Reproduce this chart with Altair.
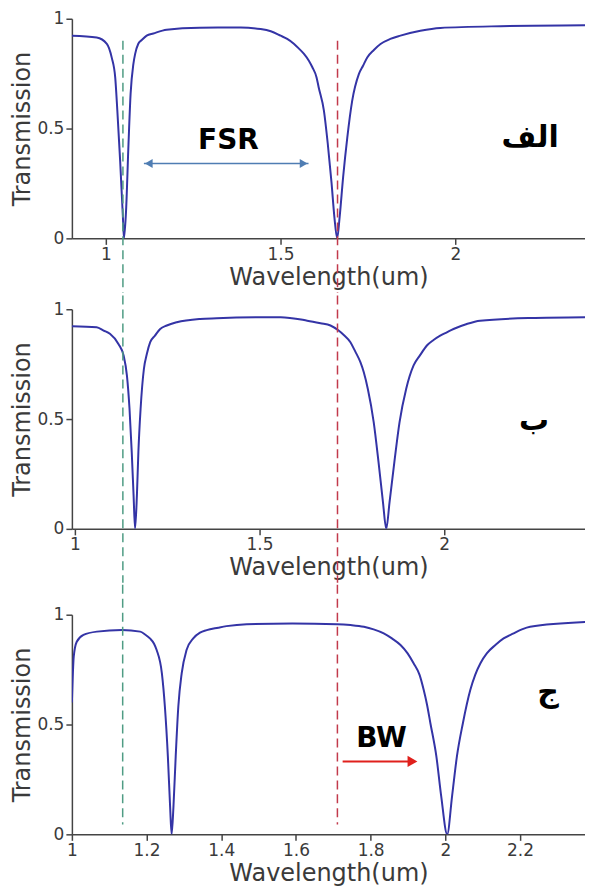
import altair as alt
import pandas as pd

# ---------------- data ----------------
# panel (الف)
wl_a = [0.903, 0.974, 1.003, 1.017, 1.027, 1.033, 1.041, 1.049, 1.052, 1.058, 1.065,
        1.071, 1.079, 1.084, 1.093, 1.103, 1.117, 1.136, 1.174, 1.269, 1.386, 1.443,
        1.472, 1.5, 1.519, 1.538, 1.552, 1.567, 1.581, 1.591, 1.603, 1.609, 1.624,
        1.635, 1.646, 1.654, 1.662, 1.669, 1.679, 1.691, 1.705, 1.724, 1.736, 1.748,
        1.767, 1.786, 1.814, 1.843, 1.9, 1.957, 2.129, 2.394]
tr_a = [0.923, 0.915, 0.886, 0.823, 0.732, 0.582, 0.355, 0.095, 0.0, 0.127, 0.432,
        0.659, 0.795, 0.84, 0.886, 0.903, 0.923, 0.933, 0.95, 0.959, 0.96, 0.953,
        0.943, 0.923, 0.908, 0.886, 0.865, 0.84, 0.809, 0.779, 0.733, 0.688, 0.582,
        0.432, 0.25, 0.097, 0.0, 0.097, 0.279, 0.46, 0.627, 0.748, 0.786, 0.824,
        0.858, 0.885, 0.908, 0.923, 0.945, 0.958, 0.966, 0.97]

# panel (ب)
wl_b = [0.992, 1.059, 1.078, 1.095, 1.118, 1.132, 1.141, 1.148, 1.154, 1.159, 1.163,
        1.168, 1.172, 1.178, 1.187, 1.195, 1.204, 1.217, 1.231, 1.249, 1.276, 1.339,
        1.384, 1.557, 1.629, 1.665, 1.692, 1.714, 1.728, 1.746, 1.759, 1.773, 1.782,
        1.793, 1.809, 1.822, 1.834, 1.843, 1.852, 1.865, 1.879, 1.897, 1.917, 1.935,
        1.953, 1.971, 1.989, 2.007, 2.025, 2.061, 2.097, 2.232, 2.403]
tr_b = [0.923, 0.918, 0.903, 0.888, 0.842, 0.789, 0.698, 0.547, 0.35, 0.153, 0.0,
        0.153, 0.35, 0.547, 0.729, 0.797, 0.85, 0.88, 0.91, 0.926, 0.941, 0.956,
        0.959, 0.964, 0.948, 0.936, 0.926, 0.903, 0.883, 0.85, 0.808, 0.759, 0.714,
        0.638, 0.486, 0.305, 0.123, 0.0, 0.123, 0.305, 0.486, 0.638, 0.744, 0.792,
        0.835, 0.86, 0.88, 0.895, 0.91, 0.933, 0.948, 0.96, 0.964]

# panel (ج)
wl_c = [1.0, 1.005, 1.013, 1.031, 1.067, 1.134, 1.183, 1.196, 1.209, 1.22, 1.227,
        1.241, 1.249, 1.257, 1.263, 1.267, 1.272, 1.278, 1.285, 1.294, 1.307, 1.325,
        1.343, 1.361, 1.392, 1.414, 1.468, 1.59, 1.71, 1.746, 1.782, 1.808, 1.835,
        1.857, 1.88, 1.899, 1.915, 1.931, 1.942, 1.951, 1.96, 1.976, 1.989, 2.005,
        2.018, 2.031, 2.047, 2.067, 2.08, 2.094, 2.111, 2.134, 2.156, 2.183, 2.205,
        2.227, 2.396]
tr_c = [0.6, 0.81, 0.877, 0.908, 0.923, 0.93, 0.923, 0.91, 0.892, 0.868, 0.839,
        0.733, 0.582, 0.355, 0.127, 0.0, 0.127, 0.355, 0.582, 0.733, 0.839, 0.892,
        0.918, 0.93, 0.941, 0.948, 0.957, 0.96, 0.957, 0.953, 0.945, 0.933, 0.915,
        0.892, 0.862, 0.824, 0.779, 0.726, 0.658, 0.59, 0.506, 0.355, 0.173, 0.0,
        0.173, 0.355, 0.506, 0.658, 0.726, 0.779, 0.824, 0.862, 0.892, 0.915, 0.933,
        0.945, 0.968]

x_domains = [[0.903, 2.371], [0.992, 2.381], [1.0, 2.374]]
x_ticks = [[1, 1.5, 2], [1, 1.5, 2], [1, 1.2, 1.4, 1.6, 1.8, 2, 2.2]]
y_ticks = [0, 0.5, 1]

# dashed marker lines (wavelength in each panel's scale)
green_wl = [1.049, 1.130, 1.136]
red_wl = [1.663, 1.711, 1.711]
rule_top = [0.9, 1.062, 1.1365]
rule_bot = [-0.248, -0.2455, 0.045]

labels = ["الف", "ب", "ج"]
label_pos = [(2.214, 0.459), (2.243, 0.49), (2.275, 0.645)]

# FSR annotation (panel 1)
fsr_text = (1.351, 0.445)
fsr_arrow = (1.109, 1.58, 0.341)
fsr_heads = (1.123, 1.566)
# BW annotation (panel 3)
bw_text = (1.829, 0.436)
bw_arrow = (1.725, 1.912, 0.332)

CURVE = "#3434a6"
GREEN = "#4f9c84"
RED = "#c23a4c"
FSR_COL = "#4f7db3"
BW_COL = "#e0201c"
FONT = "DejaVu Sans"

W, H = 514, 220


def xenc(i, field="wl"):
    return alt.X(f"{field}:Q",
                 scale=alt.Scale(domain=x_domains[i], nice=False, zero=False),
                 axis=alt.Axis(values=x_ticks[i], format="~g", title="Wavelength(um)",
                               labelFlush=False, titlePadding=3))


def yenc(field="T"):
    return alt.Y(f"{field}:Q",
                 scale=alt.Scale(domain=[0, 1], nice=False, zero=False),
                 axis=alt.Axis(values=y_ticks, format="~g", title="Transmission",
                               titlePadding=2))


def panel(i, wl, tr):
    df = pd.DataFrame({"wl": wl, "T": tr})
    line = alt.Chart(df).mark_line(color=CURVE, strokeWidth=2, clip=True,
                                   interpolate="monotone").encode(x=xenc(i), y=yenc())
    rdf = pd.DataFrame({"wl": [green_wl[i], red_wl[i]],
                        "T": [rule_top[i]] * 2,
                        "T2": [rule_bot[i]] * 2,
                        "c": ["g", "r"]})
    rules = alt.Chart(rdf).mark_rule(strokeDash=[9, 5], strokeWidth=1.5).encode(
        x=xenc(i), y=yenc(), y2="T2:Q",
        color=alt.Color("c:N", scale=alt.Scale(domain=["g", "r"], range=[GREEN, RED]),
                        legend=None))
    lx, ly = label_pos[i]
    ldf = pd.DataFrame({"wl": [lx], "T": [ly], "t": [labels[i]]})
    lab = alt.Chart(ldf).mark_text(font=FONT, fontWeight="bold", fontSize=30,
                                   color="black").encode(x=xenc(i), y=yenc(), text="t:N")
    layers = [line, rules, lab]
    if i == 0:
        tdf = pd.DataFrame({"wl": [fsr_text[0]], "T": [fsr_text[1]], "t": ["FSR"]})
        layers.append(alt.Chart(tdf).mark_text(font=FONT, fontWeight="bold", fontSize=28,
                                               color="black").encode(x=xenc(i), y=yenc(), text="t:N"))
        adf = pd.DataFrame({"wl": [fsr_arrow[0]], "wl2": [fsr_arrow[1]], "T": [fsr_arrow[2]]})
        layers.append(alt.Chart(adf).mark_rule(color=FSR_COL, strokeWidth=1.5).encode(
            x=xenc(i), x2="wl2:Q", y=yenc()))
        hdf = pd.DataFrame({"wl": list(fsr_heads), "T": [fsr_arrow[2]] * 2,
                            "s": ["triangle-left", "triangle-right"]})
        layers.append(alt.Chart(hdf).mark_point(filled=True, size=80, opacity=1,
                                                color=FSR_COL).encode(
            x=xenc(i), y=yenc(),
            shape=alt.Shape("s:N", scale=None)))
    if i == 2:
        tdf = pd.DataFrame({"wl": [bw_text[0]], "T": [bw_text[1]], "t": ["BW"]})
        layers.append(alt.Chart(tdf).mark_text(font=FONT, fontWeight="bold", fontSize=28,
                                               color="black").encode(x=xenc(i), y=yenc(), text="t:N"))
        adf = pd.DataFrame({"wl": [bw_arrow[0]], "wl2": [bw_arrow[1]], "T": [bw_arrow[2]]})
        layers.append(alt.Chart(adf).mark_rule(color=BW_COL, strokeWidth=2).encode(
            x=xenc(i), x2="wl2:Q", y=yenc()))
        hdf = pd.DataFrame({"wl": [bw_arrow[1]], "T": [bw_arrow[2]]})
        layers.append(alt.Chart(hdf).mark_point(filled=True, size=130, opacity=1,
                                                shape="triangle-right",
                                                color=BW_COL).encode(x=xenc(i), y=yenc()))
    return alt.layer(*layers).properties(width=W, height=H)


chart = alt.vconcat(
    panel(0, wl_a, tr_a),
    panel(1, wl_b, tr_b),
    panel(2, wl_c, tr_c),
    spacing=0,
).properties(
    padding={"left": 2, "top": 1, "right": 0, "bottom": 0},
    background="white",
).configure_view(stroke=None).configure_axis(
    labelFont=FONT, titleFont=FONT, labelFontSize=17, titleFontSize=24,
    titleFontWeight="normal", labelColor="#3a3a3a", titleColor="#3a3a3a",
    domainColor="#444444", tickColor="#444444", domainWidth=1.5, tickWidth=1.5,
    tickSize=6, labelPadding=2, grid=False,
)

chart.save("out.html", embed_options={"renderer": "svg", "actions": False})
